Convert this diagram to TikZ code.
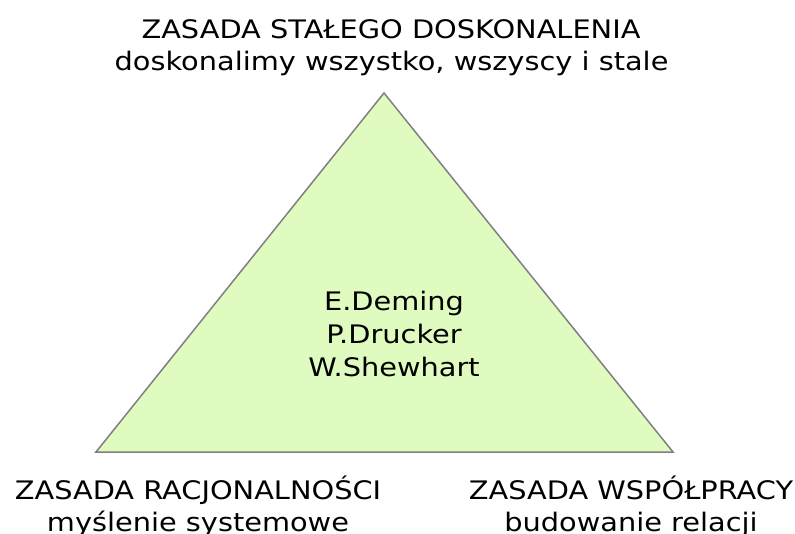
\documentclass[tikz,border=0pt]{standalone}
\usepackage{fontspec}
\setmainfont{DejaVu Sans}
\definecolor{trifill}{RGB}{224,251,192}
\definecolor{triline}{RGB}{128,128,128}
\begin{document}
\begin{tikzpicture}[x=1pt,y=-1pt,
  txt/.style={anchor=base,font=\fontsize{25.5}{25.5}\selectfont,inner sep=0pt,xscale=1.13}]
\useasboundingbox (0,0) rectangle (795,534);
% principle triangle
\coordinate (apex) at (384,93);
\coordinate (bl) at (96,452);
\coordinate (br) at (673,452);
\draw[triline,line width=1.5pt,fill=trifill,line join=miter] (apex) -- (br) -- (bl) -- cycle;
% top principle
\node[txt] (top1) at (391,39) {ZASADA STAŁEGO DOSKONALENIA};
\node[txt] (top2) at (391.5,71) {doskonalimy wszystko, wszyscy i stale};
% names inside the triangle
\node[txt] (mid1) at (394,311) {E.Deming};
\node[txt] (mid2) at (394,344) {P.Drucker};
\node[txt] (mid3) at (394,377) {W.Shewhart};
% bottom left principle
\node[txt] (left1) at (198,499) {ZASADA RACJONALNOŚCI};
\node[txt] (left2) at (198,531) {myślenie systemowe};
% bottom right principle
\node[txt] (right1) at (631,499) {ZASADA WSPÓŁPRACY};
\node[txt] (right2) at (631,531) {budowanie relacji};
\end{tikzpicture}
\end{document}
